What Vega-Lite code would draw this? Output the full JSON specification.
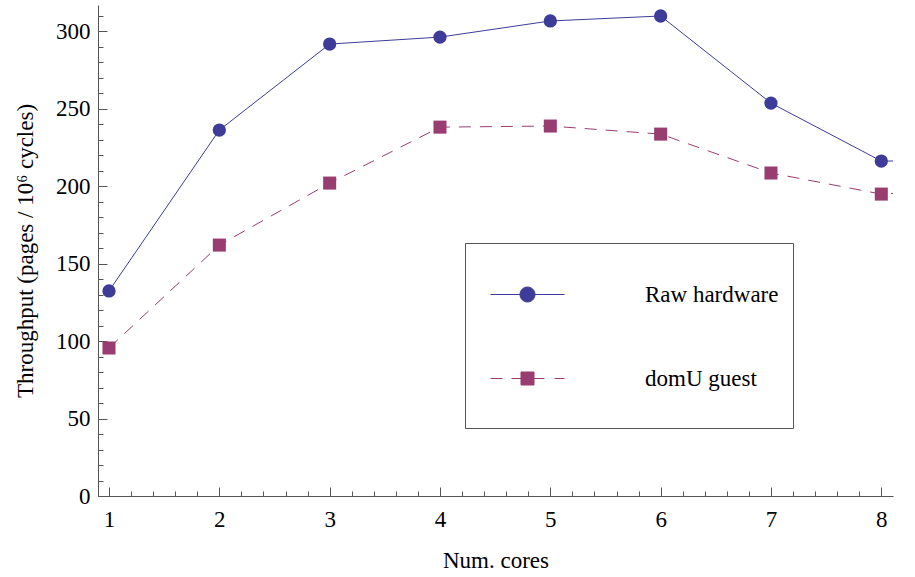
{
  "$schema": "https://vega.github.io/schema/vega-lite/v6.json",
  "width": 795,
  "height": 491,
  "autosize": {"type": "none"},
  "padding": {"left": 98, "top": 5, "right": 22, "bottom": 81},
  "background": "white",
  "config": {"view": {"stroke": null}, "font": "Liberation Serif"},
  "data": {
    "values": [
      {"cores": 1, "tp": 132.3, "series": "Raw hardware"},
      {"cores": 2, "tp": 236.1, "series": "Raw hardware"},
      {"cores": 3, "tp": 291.6, "series": "Raw hardware"},
      {"cores": 4, "tp": 296.1, "series": "Raw hardware"},
      {"cores": 5, "tp": 306.5, "series": "Raw hardware"},
      {"cores": 6, "tp": 309.7, "series": "Raw hardware"},
      {"cores": 7, "tp": 253.5, "series": "Raw hardware"},
      {"cores": 8, "tp": 216.1, "series": "Raw hardware"},
      {"cores": 9, "tp": 216.5, "series": "Raw hardware"},
      {"cores": 1, "tp": 95.5, "series": "domU guest"},
      {"cores": 2, "tp": 161.9, "series": "domU guest"},
      {"cores": 3, "tp": 201.9, "series": "domU guest"},
      {"cores": 4, "tp": 238.0, "series": "domU guest"},
      {"cores": 5, "tp": 238.7, "series": "domU guest"},
      {"cores": 6, "tp": 233.5, "series": "domU guest"},
      {"cores": 7, "tp": 208.4, "series": "domU guest"},
      {"cores": 8, "tp": 194.8, "series": "domU guest"},
      {"cores": 9, "tp": 199.0, "series": "domU guest"}
    ]
  },
  "resolve": {"axis": {"x": "independent", "y": "independent"}},
  "layer": [
    {
      "transform": [{"filter": "datum.series === 'Raw hardware'"}],
      "mark": {"type": "line", "clip": true, "strokeWidth": 1},
      "encoding": {
        "x": {
          "field": "cores", "type": "quantitative",
          "scale": {"domain": [0.9003, 8.106], "nice": false, "zero": false},
          "axis": {
            "orient": "bottom", "title": null, "labels": false, "domain": false, "grid": false,
            "ticks": true, "tickSize": -5, "tickColor": "#555", "tickWidth": 1,
            "values": [1,1.2,1.4,1.6,1.8,2,2.2,2.4,2.6,2.8,3,3.2,3.4,3.6,3.8,4,4.2,4.4,4.6,4.8,5,5.2,5.4,5.6,5.8,6,6.2,6.4,6.6,6.8,7,7.2,7.4,7.6,7.8,8]
          }
        },
        "y": {
          "field": "tp", "type": "quantitative",
          "scale": {"domain": [0, 316.8], "nice": false, "zero": true},
          "axis": {
            "orient": "left", "title": null, "labels": false, "domain": false, "grid": false,
            "ticks": true, "tickSize": -5, "tickColor": "#555", "tickWidth": 1,
            "values": [0,10,20,30,40,50,60,70,80,90,100,110,120,130,140,150,160,170,180,190,200,210,220,230,240,250,260,270,280,290,300,310]
          }
        },
        "color": {
          "field": "series", "type": "nominal",
          "scale": {"domain": ["Raw hardware", "domU guest"], "range": ["#3d3d99", "#993d71"]},
          "legend": {
            "title": "\u00a0\u00a0\u00a0\u00a0\u00a0\u00a0\u00a0\u00a0\u00a0\u00a0\u00a0\u00a0\u00a0\u00a0\u00a0\u00a0\u00a0\u00a0\u00a0\u00a0\u00a0\u00a0\u00a0\u00a0\u00a0\u00a0\u00a0\u00a0\u00a0\u00a0\u00a0\u00a0\u00a0\u00a0\u00a0\u00a0\u00a0\u00a0\u00a0\u00a0\u00a0\u00a0\u00a0\u00a0\u00a0\u00a0\u00a0\u00a0\u00a0\u00a0\u00a0\u00a0\u00a0\u00a0\u00a0\u00a0\u00a0\u00a0\u00a0\u00a0\u00a0\u00a0\u00a0\u00a0\u00a0\u00a0\u00a0\u00a0\u00a0\u00a0\u00a0\u00a0\u00a0\u00a0\u00a0\u00a0\u00a0\u00a0\u00a0\u00a0\u00a0\u00a0\u00a0\u00a0\u00a0\u00a0\u00a0\u00a0\u00a0\u00a0",
            "titleOrient": "bottom",
            "titleAnchor": "start",
            "titleFont": "Liberation Serif",
            "titleFontSize": 20,
            "titlePadding": 3,
            "titleLimit": 3000,
            "orient": "none",
            "legendX": 367,
            "legendY": 238,
            "direction": "vertical",
            "padding": 14,
            "strokeColor": "#555",
            "fillColor": "white",
            "symbolSize": 5476,
            "symbolOffset": 11,
            "symbolStrokeWidth": 1,
            "rowPadding": 34,
            "labelOffset": 80,
            "labelLimit": 2000,
            "labelFont": "Liberation Serif",
            "labelFontSize": 23,
            "labelColor": "black",
            "encode": {
              "symbols": {
                "update": {
                  "shape": {"signal": "datum.value === 'Raw hardware' ? 'M-1,0L1,0M-0.2027,0A0.2027,0.2027,0,1,1,0.2027,0A0.2027,0.2027,0,1,1,-0.2027,0Z' : 'M-1,0L-0.676,0M-0.432,0L-0.108,0M0.135,0L0.459,0M0.73,0L1,0M-0.1757,-0.1757L0.1757,-0.1757L0.1757,0.1757L-0.1757,0.1757Z'"},
                  "fill": {"signal": "scale('color', datum.value)"},
                  "stroke": {"signal": "scale('color', datum.value)"},
                  "strokeWidth": {"value": 1},
                  "strokeDash": {"value": []},
                  "size": {"value": 5476},
                  "opacity": {"value": 1}
                }
              }
            }
          }
        }
      }
    },
    {
      "transform": [{"filter": "datum.series === 'domU guest'"}],
      "mark": {"type": "line", "clip": true, "strokeWidth": 1, "color": "#993d71", "strokeDash": [12, 9]},
      "encoding": {
        "x": {"field": "cores", "type": "quantitative", "axis": null},
        "y": {"field": "tp", "type": "quantitative", "axis": null}
      }
    },
    {
      "transform": [{"filter": "datum.series === 'Raw hardware'"}],
      "mark": {"type": "point", "shape": "circle", "size": 177, "filled": true, "opacity": 1, "clip": true, "strokeWidth": 0, "color": "#3d3d99"},
      "encoding": {
        "x": {"field": "cores", "type": "quantitative", "axis": null},
        "y": {"field": "tp", "type": "quantitative", "axis": null}
      }
    },
    {
      "transform": [{"filter": "datum.series === 'domU guest'"}],
      "mark": {"type": "point", "shape": "square", "size": 170, "filled": true, "opacity": 1, "clip": true, "strokeWidth": 0, "color": "#993d71"},
      "encoding": {
        "x": {
          "field": "cores", "type": "quantitative",
          "axis": {
            "orient": "bottom", "title": "Num. cores", "grid": false,
            "values": [1,2,3,4,5,6,7,8], "format": "d",
            "domain": true, "domainColor": "#555", "domainWidth": 1,
            "ticks": true, "tickSize": -9, "tickColor": "#555", "tickWidth": 1,
            "labelFont": "Liberation Serif", "labelFontSize": 23, "labelColor": "black",
            "labelPadding": 21, "labelFlush": false,
            "titleFont": "Liberation Serif", "titleFontSize": 23, "titleFontWeight": "normal", "titleColor": "black",
            "titlePadding": 18
          }
        },
        "y": {
          "field": "tp", "type": "quantitative",
          "axis": {
            "orient": "left", "title": "Throughput (pages / 10⁶ cycles)", "grid": false,
            "values": [0,50,100,150,200,250,300],
            "domain": true, "domainColor": "#555", "domainWidth": 1,
            "ticks": true, "tickSize": -9, "tickColor": "#555", "tickWidth": 1,
            "labelFont": "Liberation Serif", "labelFontSize": 23, "labelColor": "black",
            "labelPadding": 17, "labelFlush": false,
            "titleFont": "Liberation Serif", "titleFontSize": 23, "titleFontWeight": "normal", "titleColor": "black",
            "titlePadding": 18
          }
        }
      }
    }
  ]
}
